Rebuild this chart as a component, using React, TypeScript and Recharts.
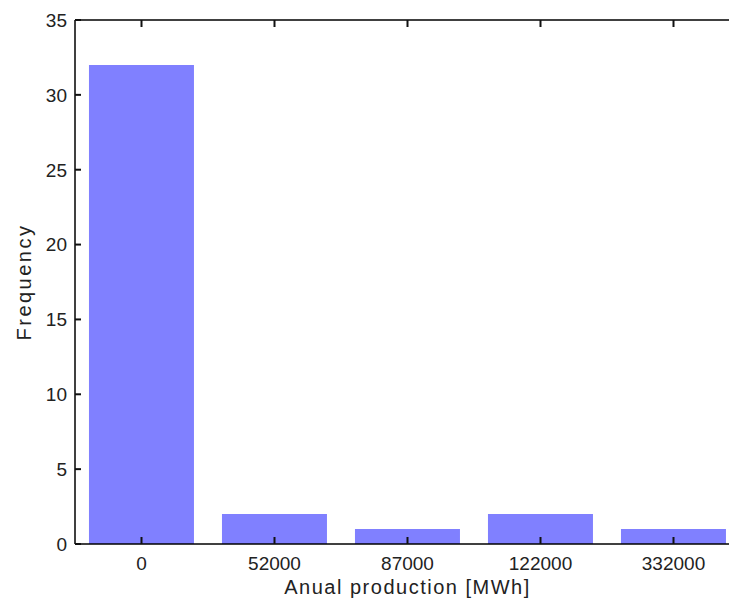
import { Bar, BarChart, XAxis, YAxis } from 'recharts';

const bins = ['0', '52000', '87000', '122000', '332000'];
const frequency = [32, 2, 1, 2, 1];
const yTicks = [0, 5, 10, 15, 20, 25, 30, 35];

const data = bins.map((bin, i) => ({ bin, count: frequency[i] }));

const fontFamily = 'Liberation Sans, Arial, sans-serif';

// inner tick marks + label, like matlab
const BottomTick = (props: any) => {
  const { x, y, payload } = props;
  return (
    <g>
      <path d={`M${x},${y}V${y - 7}`} stroke="#111" strokeWidth={2} />
      <text x={x} y={y + 26} textAnchor="middle" fontFamily={fontFamily} fontSize={19} fill="#222">
        {payload.value}
      </text>
    </g>
  );
};

const TopTick = (props: any) => {
  const { x, y } = props;
  return <path d={`M${x},${y}V${y + 7}`} stroke="#111" strokeWidth={2} />;
};

const LeftTick = (props: any) => {
  const { x, y, payload } = props;
  return (
    <g>
      <path d={`M${x},${y}H${x + 6}`} stroke="#111" strokeWidth={2} />
      <text x={x - 8} y={y} dy="0.36em" textAnchor="end" fontFamily={fontFamily} fontSize={19} fill="#222">
        {payload.value}
      </text>
    </g>
  );
};

const App = () => (
  <div style={{ position: 'absolute', left: 0, top: 0, width: 729, height: 604, overflow: 'hidden', background: '#fff' }}>
    <BarChart
      width={760}
      height={604}
      data={data}
      margin={{ top: 19, right: 20, left: 0, bottom: 0 }}
      barCategoryGap="10.5%"
    >
      <Bar dataKey="count" xAxisId={0} fill="#8080ff" isAnimationActive={false} />
      <XAxis
        xAxisId="top"
        dataKey="bin"
        orientation="top"
        height={1}
        stroke="#000"
        strokeWidth={1.5}
        tickLine={false}
        tickSize={0}
        tickMargin={0}
        tick={TopTick}
      />
      <XAxis
        dataKey="bin"
        height={60}
        stroke="#000"
        strokeWidth={1.5}
        tickLine={false}
        tickSize={0}
        tickMargin={0}
        tick={BottomTick}
        label={{
          value: 'Anual production [MWh]',
          position: 'insideBottom',
          offset: 10,
          style: { fontFamily, fontSize: 20, letterSpacing: 1.5, fill: '#222' },
        }}
      />
      <YAxis
        width={75}
        domain={[0, 35]}
        ticks={yTicks}
        interval={0}
        stroke="#000"
        strokeWidth={1.5}
        tickLine={false}
        tickSize={0}
        tickMargin={0}
        tick={LeftTick}
        label={{
          value: 'Frequency',
          angle: -90,
          position: 'center',
          dx: -14,
          style: { fontFamily, fontSize: 20, letterSpacing: 2.5, fill: '#222', textAnchor: 'middle' },
        }}
      />
    </BarChart>
  </div>
);

export default App;
